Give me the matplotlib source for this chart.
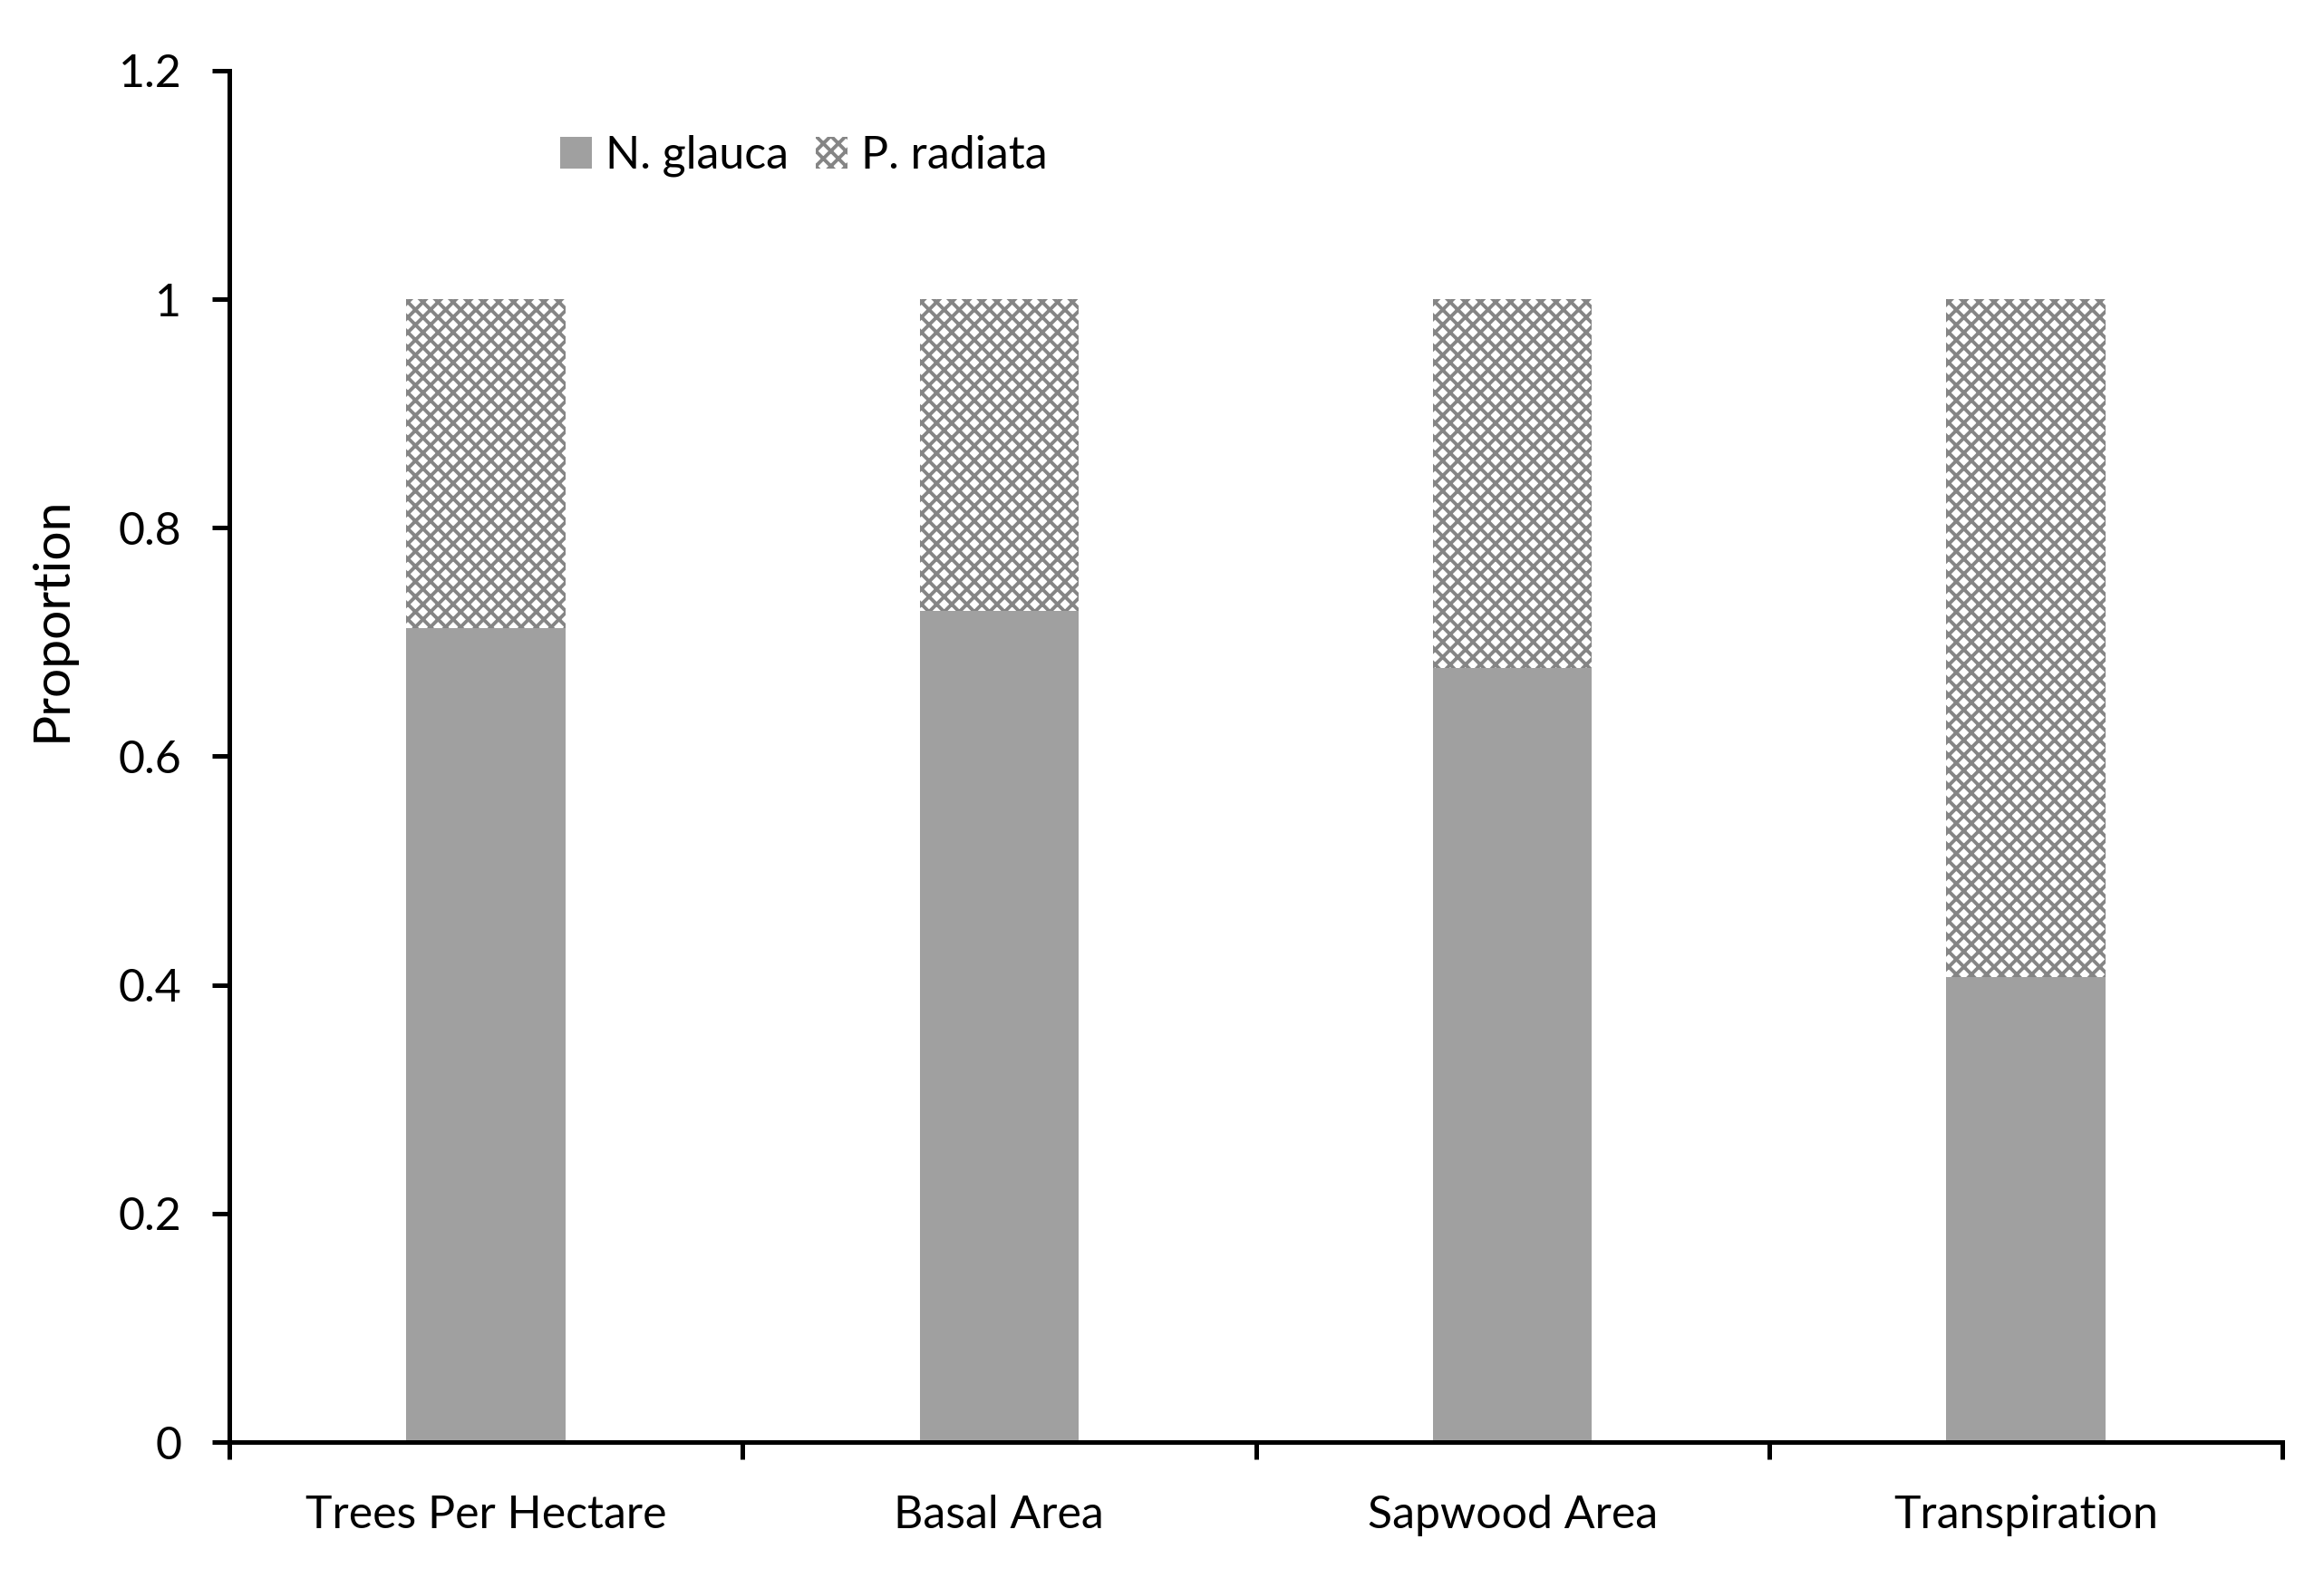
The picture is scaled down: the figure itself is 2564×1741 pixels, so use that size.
import numpy as np
import matplotlib.pyplot as plt

categories = ["Trees Per Hectare", "Basal Area", "Sapwood Area", "Transpiration"]
n_glauca = [0.712, 0.727, 0.677, 0.407]
p_radiata = [0.288, 0.273, 0.323, 0.593]

plt.rcParams['font.family'] = ['Lato', 'DejaVu Sans']
plt.rcParams['hatch.linewidth'] = 1.4
plt.rcParams['hatch.color'] = '#858585'

fig = plt.figure(figsize=(12.82, 8.705), dpi=200)
ax = fig.add_axes([253 / 2564, 1 - 1591 / 1741, 2265 / 2564, 1513 / 1741])

x = np.arange(len(categories)) + 0.5
w = 0.31
ax.bar(x, n_glauca, width=w, color='#a0a0a0', label='N. glauca')
ax.bar(x, p_radiata, width=w, bottom=n_glauca, facecolor='white',
       edgecolor='#858585', linewidth=0, hatch='xxxx', label='P. radiata')

ax.set_xlim(0, 4)
ax.set_ylim(0, 1.2)
ax.set_yticks([0, 0.2, 0.4, 0.6, 0.8, 1.0, 1.2])
ax.set_yticklabels(['0', '0.2', '0.4', '0.6', '0.8', '1', '1.2'])
ax.set_xticks([0, 1, 2, 3, 4])
ax.set_xticklabels([])
ax.set_xticks(x, minor=True)
ax.set_xticklabels(categories, minor=True)
ax.tick_params(axis='x', which='minor', length=0, pad=21, labelsize=18)
ax.tick_params(axis='x', which='major', direction='out', length=7, width=1.8)
ax.tick_params(axis='y', direction='out', length=7, width=1.8, pad=12, labelsize=18)

for s in ['top', 'right']:
    ax.spines[s].set_visible(False)
for s in ['left', 'bottom']:
    ax.spines[s].set_linewidth(1.8)

ax.set_ylabel("Proportion", fontsize=20.5)
ax.yaxis.set_label_coords(-0.075, 0.6)

ax.legend(loc='center', bbox_to_anchor=(0.28, 0.938), ncol=2, frameon=False,
          fontsize=18, handlelength=0.7, handleheight=0.7, handletextpad=0.3,
          columnspacing=0.6)

fig.savefig("out.png")
plt.close()
